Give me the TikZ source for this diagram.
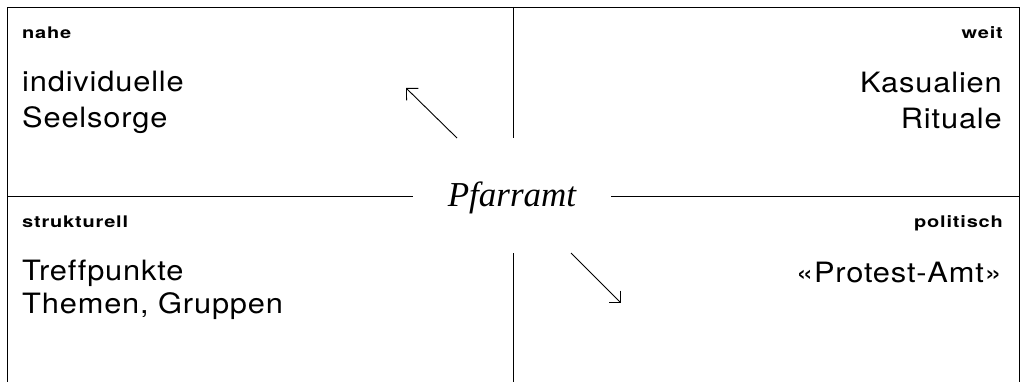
\documentclass[tikz,border=0pt]{standalone}
\usepackage{fontspec}
\newfontfamily\heros[FakeStretch=1.1,LetterSpace=3,Ligatures=NoCommon]{TeX Gyre Heros}
\newfontfamily\herosb[FakeStretch=1.25,LetterSpace=5,Ligatures=NoCommon]{TeX Gyre Heros Bold}
\newfontfamily\serifit{Liberation Serif Italic}
\usetikzlibrary{arrows.meta}
\begin{document}
\begin{tikzpicture}[x=1pt,y=-1pt,
  rule/.style={line width=0.9pt,black},
  tag/.style={inner sep=0pt,font=\herosb\fontsize{16}{18}\selectfont},
  big/.style={inner sep=0pt,font=\heros\fontsize{28}{31}\selectfont},
  pointer/.style={line width=0.9pt,-{Straight Barb[length=8.5pt,width=17pt,line width=0.9pt]}}]
\useasboundingbox (0,0) rectangle (1025,382);
% frame
\coordinate (bl) at (7,382);
\coordinate (tl) at (7,7);
\coordinate (tr) at (1019,7);
\coordinate (br) at (1019,382);
\draw[rule] (bl) -- (tl) -- (tr) -- (br);
% centre
\node[inner xsep=0pt,inner ysep=0pt,anchor=base,font=\serifit\fontsize{35}{38}\selectfont] (pf) at (512,207) {Pfarramt};
\coordinate (ml) at (7,196);
\coordinate (mr) at (1019,196);
\coordinate (mlg) at (413,196);
\coordinate (mrg) at (611,196);
\draw[rule] (ml) -- (mlg);
\draw[rule] (mr) -- (mrg);
\coordinate (vt) at (513,7);
\coordinate (vtb) at (513,138);
\coordinate (vb) at (513,253);
\coordinate (vbb) at (513,382);
\draw[rule] (vt) -- (vtb);
\draw[rule] (vb) -- (vbb);
% quadrant labels
\node[tag,anchor=base west] (nahe) at (22,39) {nahe};
\node[tag,anchor=base east] (weit) at (1003,39) {weit};
\node[tag,anchor=base west] (strukt) at (22,228) {strukturell};
\node[tag,anchor=base east] (polit) at (1003,228) {politisch};
% contents
\node[big,anchor=base west] (ind) at (22,92) {individuelle};
\node[big,anchor=base west] (seel) at (22,128) {Seelsorge};
\node[big,anchor=base east] (kas) at (1002,93) {Kasualien};
\node[big,anchor=base east] (rit) at (1002,129) {Rituale};
\node[big,anchor=base west] (treff) at (22,280) {Treffpunkte};
\node[big,anchor=base west] (them) at (22,313) {Themen, Gruppen};
\node[big,anchor=base east] (prot) at (1002,282) {«Protest-Amt»};
% arrows
\coordinate (a1s) at (457,138);
\coordinate (a1e) at (406,88);
\coordinate (a2s) at (571,253);
\coordinate (a2e) at (621,303);
\draw[pointer] (a1s) -- (a1e);
\draw[pointer] (a2s) -- (a2e);
\end{tikzpicture}
\end{document}
